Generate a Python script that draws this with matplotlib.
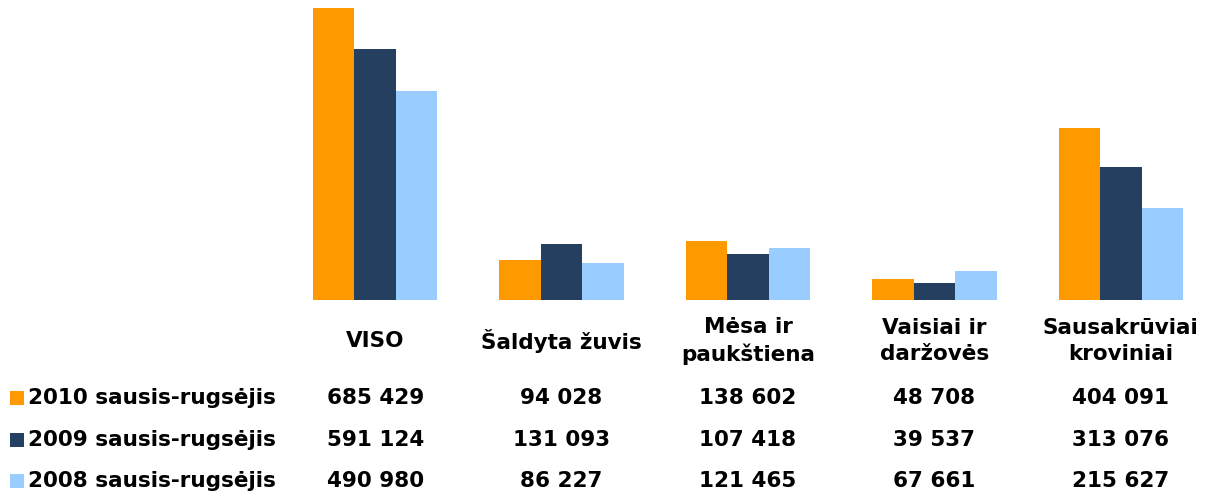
import matplotlib
matplotlib.use("Agg")
import matplotlib.pyplot as plt
import matplotlib.transforms as mtransforms
from matplotlib.patches import Rectangle
import numpy as np

categories = ["VISO", "Šaldyta žuvis", "Mėsa ir\npaukštiena", "Vaisiai ir\ndaržovės", "Sausakrūviai\nkroviniai"]
series_names = ["2010 sausis-rugsėjis", "2009 sausis-rugsėjis", "2008 sausis-rugsėjis"]
v2010 = [685429, 94028, 138602, 48708, 404091]
v2009 = [591124, 131093, 107418, 39537, 313076]
v2008 = [490980, 86227, 121465, 67661, 215627]
colors = ["#FF9900", "#253F60", "#99CCFF"]

def fmt(v):
    return f"{v:,}".replace(",", " ")

W, H = 1215, 497
fig = plt.figure(figsize=(W / 100, H / 100), dpi=100)
ax = fig.add_axes([282 / W, (H - 300) / H, (1214 - 282) / W, 299 / H])

series = [v2010, v2009, v2008]
x = np.arange(len(categories))
bw = 1 / 4.5
for i, (vals, c) in enumerate(zip(series, colors)):
    ax.bar(x + (i - 1) * bw, vals, width=bw, color=c, edgecolor="none")

ax.set_xlim(-0.5, len(categories) - 0.5)
ax.set_ylim(0, 703000)
ax.axis("off")

fp = dict(fontfamily="DejaVu Sans", fontweight="bold", fontsize=15.5, color="black")
trans = mtransforms.blended_transform_factory(ax.transData, fig.transFigure)
# category labels
for xi, cat in zip(x, categories):
    ax.text(xi, 1 - 341 / H, cat, transform=trans, ha="center", va="center",
            linespacing=1.35, **fp)

row_y = [398, 440, 481]
for ry, name, vals, c in zip(row_y, series_names, series, colors):
    yf = 1 - ry / H
    fig.patches.append(Rectangle((10 / W, yf - 6.5 / H), 14 / W, 14 / H,
                                 transform=fig.transFigure, facecolor=c,
                                 edgecolor="none"))
    fig.text(28 / W, yf, name, ha="left", va="center", **fp)
    for xi, v in zip(x, vals):
        ax.text(xi, yf, fmt(v), transform=trans, ha="center", va="center", **fp)

fig.savefig("out.png", dpi=100)
